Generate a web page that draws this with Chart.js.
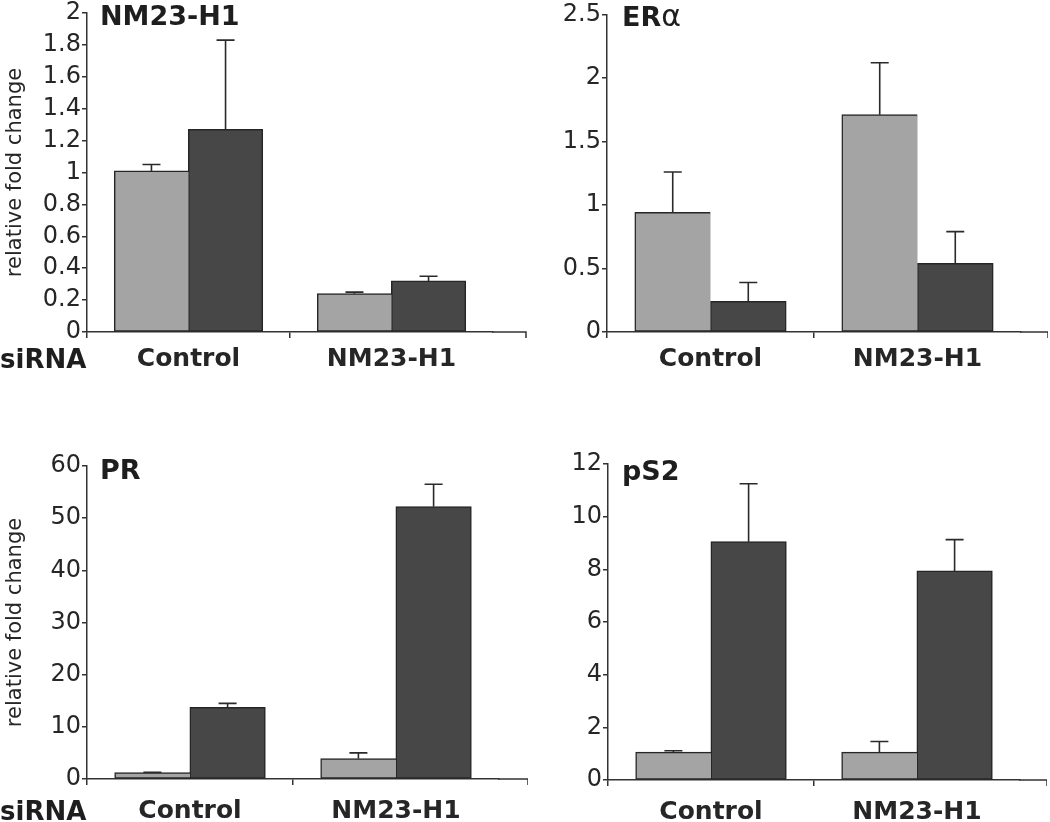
<!DOCTYPE html>
<html><head><meta charset="utf-8">
<script src="https://cdn.jsdelivr.net/npm/chart.js@4.4.0/dist/chart.umd.min.js"></script>
<style>
html,body{margin:0;padding:0;background:#fff;width:1050px;height:822px;overflow:hidden;position:relative;}
canvas{position:absolute;}
.lbl{position:absolute;font-family:"DejaVu Sans";font-weight:bold;color:#1e1e1e;line-height:27px;white-space:nowrap;}
.lbl .a{font-weight:normal;font-size:30px;}
</style></head><body>
<canvas id="c1"></canvas><canvas id="c2"></canvas><canvas id="c3"></canvas><canvas id="c4"></canvas>
<div class="lbl" style="left:100px;top:2px;font-size:27px;">NM23-H1</div>
<div class="lbl" style="left:622px;top:2px;font-size:27px;">ER<span class="a">α</span></div>
<div class="lbl" style="left:100px;top:456px;font-size:27px;">PR</div>
<div class="lbl" style="left:622px;top:457px;font-size:27px;">pS2</div>
<div class="lbl" style="left:0px;top:346px;font-size:26px;">siRNA</div>
<div class="lbl" style="left:0px;top:798px;font-size:26px;">siRNA</div>
<script>
// ---- data ----
const categories = ['Control', 'NM23-H1'];

const nm23Light = [1.01, 0.24];
const nm23LightErr = [0.04, 0.01];
const nm23Dark = [1.27, 0.32];
const nm23DarkErr = [0.56, 0.03];

const eraLight = [0.94, 1.71];
const eraLightErr = [0.32, 0.41];
const eraDark = [0.24, 0.54];
const eraDarkErr = [0.15, 0.25];

const prLight = [1.2, 3.9];
const prLightErr = [0.1, 1.1];
const prDark = [13.7, 52.2];
const prDarkErr = [0.8, 4.3];

const ps2Light = [1.05, 1.05];
const ps2LightErr = [0.06, 0.41];
const ps2Dark = [9.05, 7.94];
const ps2DarkErr = [2.2, 1.19];

const nm23Ticks = {max: 2, step: 0.2};
const eraTicks = {max: 2.5, step: 0.5};
const prTicks = {max: 60, step: 10};
const ps2Ticks = {max: 12, step: 2};
const yAxisTitle = 'relative fold change';

// ---- styles ----
const LIGHT = '#a4a4a4', DARK = '#474747', EDGE = '#262626', AXIS = '#333333', TXT = '#262626';
const FONT = '"DejaVu Sans"';

const errorBars = {
  id: 'errorBars',
  afterDatasetsDraw(chart) {
    const ctx = chart.ctx, ys = chart.scales.y;
    chart.data.datasets.forEach((ds, di) => {
      const meta = chart.getDatasetMeta(di);
      meta.data.forEach((bar, i) => {
        const top = ys.getPixelForValue(ds.data[i] + ds.errors[i]);
        ctx.save();
        ctx.strokeStyle = '#2a2a2a'; ctx.lineWidth = 1.6;
        ctx.beginPath();
        ctx.moveTo(bar.x, bar.y); ctx.lineTo(bar.x, top);
        ctx.moveTo(bar.x - 9, top); ctx.lineTo(bar.x + 9, top);
        ctx.stroke(); ctx.restore();
      });
    });
  }
};
const axisExt = {
  id: 'axisExt',
  afterDraw(chart, args, opts) {
    const a = chart.chartArea, ctx = chart.ctx;
    ctx.save(); ctx.strokeStyle = AXIS; ctx.lineWidth = 1.5;
    ctx.beginPath();
    ctx.moveTo(a.right - 1, a.bottom); ctx.lineTo(a.right + opts.ext, a.bottom);
    ctx.lineTo(a.right + opts.ext, a.bottom + 6);
    ctx.stroke(); ctx.restore();
  }
};

function fmt(v) { return String(Number(v.toFixed(2))); }

function makeChart(p) {
  const cv = document.getElementById(p.id);
  cv.width = p.w; cv.height = p.h;
  cv.style.left = p.l + 'px'; cv.style.top = p.t + 'px';
  cv.style.width = p.w + 'px'; cv.style.height = p.h + 'px';
  new Chart(cv, {
    type: 'bar',
    data: {
      labels: categories,
      datasets: [
        {data: p.light, errors: p.lightErr, backgroundColor: LIGHT, borderColor: EDGE,
         borderWidth: {top: 1.5, left: 1.5, bottom: 1.5, right: 0}, borderSkipped: false, inflateAmount: 0.5},
        {data: p.dark, errors: p.darkErr, backgroundColor: DARK, borderColor: EDGE,
         borderWidth: 1.5, borderSkipped: false, inflateAmount: 0.5}
      ]
    },
    options: {
      responsive: false, animation: false, devicePixelRatio: 1,
      categoryPercentage: 0.73, barPercentage: 1.0,
      layout: {padding: p.pad},
      plugins: {legend: {display: false}, tooltip: {enabled: false}, axisExt: {ext: p.ext}},
      scales: {
        x: {
          afterFit: s => { s.height = 60; },
          grid: {offset: true, drawOnChartArea: false, tickLength: 6, lineWidth: 1.5,
                 color: c => c.type === 'tick' ? AXIS : 'rgba(0,0,0,0)'},
          border: {display: true, color: AXIS, width: 1.5},
          ticks: {color: TXT, font: {family: FONT, size: 25, weight: 'bold'}, padding: p.xpad, maxRotation: 0}
        },
        y: {
          min: 0, max: p.ticks.max,
          afterFit: s => { s.width = p.yw; },
          grid: {drawOnChartArea: false, tickLength: 5, lineWidth: 1.5, color: AXIS},
          border: {display: true, color: AXIS, width: 1.5},
          ticks: {stepSize: p.ticks.step, autoSkip: false, color: TXT, padding: 1,
                  font: {family: FONT, size: 24}, callback: v => fmt(v)},
          title: {display: p.title, text: yAxisTitle, color: TXT, font: {family: FONT, size: 21}, padding: {top: 3, bottom: 0}}
        }
      }
    },
    plugins: [errorBars, axisExt]
  });
}

makeChart({id: 'c1', l: 0, t: -20, w: 533, h: 412, pad: {left: 0, right: 40, top: 33, bottom: 0}, yw: 87, ext: 33, xpad: 6,
  ticks: nm23Ticks, title: true, light: nm23Light, lightErr: nm23LightErr, dark: nm23Dark, darkErr: nm23DarkErr});
makeChart({id: 'c2', l: 520, t: -20, w: 528, h: 412, pad: {left: 0, right: 27, top: 34.5, bottom: 0}, yw: 87, ext: 27, xpad: 6,
  ticks: eraTicks, title: false, light: eraLight, lightErr: eraLightErr, dark: eraDark, darkErr: eraDarkErr});
makeChart({id: 'c3', l: 0, t: 440, w: 528, h: 399, pad: {left: 0, right: 29, top: 26, bottom: 0}, yw: 87, ext: 29, xpad: 11,
  ticks: prTicks, title: true, light: prLight, lightErr: prLightErr, dark: prDark, darkErr: prDarkErr});
makeChart({id: 'c4', l: 520, t: 440, w: 527, h: 400, pad: {left: 0, right: 27, top: 24, bottom: 0}, yw: 88, ext: 27, xpad: 11,
  ticks: ps2Ticks, title: false, light: ps2Light, lightErr: ps2LightErr, dark: ps2Dark, darkErr: ps2DarkErr});
</script>
</body></html>
